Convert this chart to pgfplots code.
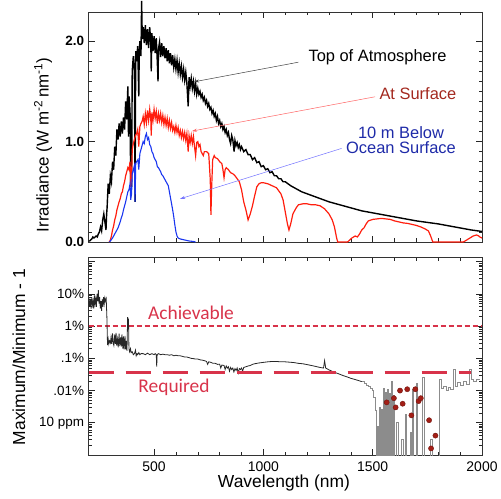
\documentclass[border=0pt]{standalone}
\usepackage{fontspec}
\setmainfont{Liberation Sans}
\newfontfamily\carlito{Carlito}
\usepackage{pgfplots}
\pgfplotsset{compat=1.18}
\usetikzlibrary{arrows.meta}
\definecolor{surfred}{HTML}{FF1E0E}
\definecolor{oceanblue}{HTML}{1A36F0}
\definecolor{lblred}{HTML}{A3281E}
\definecolor{lblblue}{HTML}{1E2AA8}
\definecolor{dashred}{HTML}{D8334A}
\definecolor{dotred}{HTML}{A31E16}

\pgfplotstableread{
x y
200 0.01
205 0.01
210 0.02
215 0.03
220 0.05
225 0.04
230 0.05
235 0.06
240 0.05
245 0.08
250 0.10
255 0.15
260 0.11
265 0.22
270 0.28
275 0.20
280 0.12
283 0.28
285 0.34
290 0.58
295 0.48
300 0.66
305 0.60
310 0.80
315 0.72
320 0.95
325 0.86
330 1.12
335 1.02
340 1.18
345 1.05
350 1.20
355 1.08
360 1.24
365 1.12
370 1.40
375 1.22
380 1.55
383 1.05
386 1.45
390 1.30
393 0.60
395 1.20
397 0.55
400 1.70
405 1.85
410 1.70
413 0.40
416 1.90
420 1.80
425 1.95
430 1.45
432 1.88
435 2.00
440 1.85
443 2.40
446 2.02
450 2.14
455 1.98
460 2.16
465 1.96
470 2.12
475 1.93
480 2.14
485 1.98
487 1.70
490 2.08
495 1.90
500 2.05
505 1.88
510 2.03
515 1.78
518 1.60
520 1.92
525 1.99
530 1.84
535 1.98
540 1.85
545 1.95
550 1.83
555 1.93
560 1.80
565 1.91
570 1.78
575 1.88
580 1.76
585 1.86
590 1.74
595 1.82
600 1.72
605 1.81
610 1.69
615 1.78
620 1.67
625 1.75
630 1.64
635 1.72
640 1.61
645 1.69
650 1.58
656 1.35
660 1.64
665 1.55
670 1.63
675 1.53
680 1.60
685 1.50
690 1.58
695 1.47
700 1.53
705 1.47
710 1.50
715 1.44
720 1.47
725 1.41
730 1.44
735 1.38
740 1.41
745 1.35
750 1.38
755 1.32
760 1.34
765 1.28
770 1.31
775 1.25
780 1.28
785 1.21
790 1.25
795 1.18
800 1.21
805 1.15
810 1.18
815 1.12
820 1.15
825 1.09
830 1.12
835 1.06
840 1.09
845 1.02
850 0.98
855 1.06
860 1.02
866 0.90
870 1.01
875 0.96
880 0.99
885 0.94
890 0.97
895 0.92
900 0.95
910 0.90
920 0.92
930 0.87
940 0.87
950 0.82
960 0.84
970 0.79
980 0.80
990 0.75
1000 0.76
1010 0.72
1020 0.73
1030 0.69
1040 0.70
1050 0.66
1060 0.66
1070 0.63
1080 0.63
1090 0.60
1100 0.60
1125 0.56
1150 0.53
1175 0.50
1200 0.48
1250 0.44
1300 0.40
1350 0.37
1400 0.34
1450 0.31
1500 0.29
1550 0.27
1600 0.25
1650 0.23
1700 0.21
1750 0.195
1800 0.18
1850 0.16
1900 0.14
1950 0.12
2000 0.105
}\toa

\pgfplotstableread{
x y
295 0.00
300 0.02
305 0.06
310 0.12
315 0.16
320 0.22
325 0.26
330 0.32
335 0.36
340 0.40
345 0.43
350 0.48
355 0.50
360 0.56
365 0.60
370 0.66
375 0.70
380 0.74
385 0.72
390 0.80
393 0.55
397 0.62
400 0.92
405 0.98
410 1.02
415 1.06
420 1.08
425 1.12
430 0.95
435 1.15
440 1.18
445 1.20
450 1.25
455 1.17
460 1.28
465 1.19
470 1.31
475 1.21
480 1.32
485 1.22
487 1.06
490 1.29
495 1.21
500 1.32
505 1.23
510 1.30
515 1.18
520 1.28
525 1.21
530 1.28
535 1.19
540 1.26
545 1.17
550 1.24
555 1.16
560 1.23
565 1.14
570 1.21
575 1.13
580 1.19
585 1.11
590 1.15
595 1.09
600 1.16
605 1.09
610 1.14
615 1.06
620 1.11
625 1.04
630 1.10
635 1.03
640 1.09
645 1.01
650 1.08
656 0.90
660 1.06
665 0.99
670 1.06
675 0.98
680 1.05
685 0.95
690 0.86
695 0.99
700 1.00
705 0.95
710 0.97
715 0.90
720 0.88
725 0.86
730 0.90
740 0.90
750 0.88
757 0.62
760 0.27
763 0.52
768 0.82
775 0.86
780 0.84
790 0.83
800 0.80
810 0.78
815 0.72
820 0.64
825 0.72
830 0.74
840 0.72
850 0.69
860 0.68
870 0.66
880 0.63
890 0.60
900 0.52
910 0.40
920 0.32
930 0.22
940 0.28
950 0.36
960 0.46
970 0.55
980 0.58
990 0.59
1000 0.59
1020 0.58
1040 0.56
1060 0.54
1080 0.48
1090 0.42
1100 0.30
1110 0.18
1117 0.12
1125 0.18
1135 0.28
1150 0.34
1160 0.37
1180 0.38
1200 0.38
1220 0.37
1240 0.37
1260 0.36
1280 0.33
1300 0.28
1315 0.22
1325 0.15
1335 0.04
1340 0.00
1385 0.00
1395 0.02
1405 0.04
1420 0.06
1430 0.05
1440 0.08
1450 0.12
1460 0.14
1470 0.18
1480 0.21
1500 0.225
1520 0.23
1540 0.235
1560 0.23
1580 0.225
1600 0.21
1620 0.20
1640 0.19
1660 0.185
1680 0.175
1700 0.165
1720 0.15
1740 0.13
1755 0.11
1765 0.06
1775 0.00
1915 0.00
1930 0.02
1945 0.04
1960 0.06
1975 0.07
1985 0.06
1990 0.05
2000 0.04
}\surf

\pgfplotstableread{
x y
295 0.00
300 0.01
310 0.04
320 0.08
330 0.12
335 0.14
340 0.17
345 0.20
350 0.24
355 0.27
360 0.32
365 0.36
370 0.40
375 0.45
380 0.50
385 0.52
390 0.58
393 0.42
397 0.48
400 0.68
405 0.72
410 0.76
413 0.40
416 0.78
420 0.80
426 0.82
430 0.72
435 0.88
440 0.92
445 0.96
450 1.00
455 0.98
460 1.05
465 1.08
470 1.02
475 1.04
480 0.97
485 0.95
490 0.90
495 0.88
500 0.84
505 0.82
510 0.80
515 0.75
520 0.74
525 0.72
530 0.70
535 0.67
540 0.66
545 0.64
550 0.62
555 0.60
560 0.58
565 0.56
570 0.50
575 0.44
580 0.38
585 0.32
590 0.25
595 0.17
600 0.10
605 0.06
610 0.04
620 0.03
640 0.02
660 0.01
680 0.005
690 0.00
}\ocean

\pgfplotstableread{
x y
200 0.035
203 0.06
206 0.04
209 0.07
212 0.035
215 0.08
218 0.045
221 0.06
224 0.035
227 0.09
230 0.05
233 0.07
236 0.04
239 0.10
242 0.06
245 0.13
248 0.05
251 0.08
254 0.035
257 0.06
260 0.03
263 0.07
266 0.04
269 0.08
272 0.05
275 0.075
278 0.06
281 0.07
284 0.02
287 0.0026
290 0.004
293 0.0028
296 0.0035
300 0.003
303 0.0045
306 0.0028
310 0.006
313 0.003
316 0.0025
320 0.0055
323 0.0028
326 0.0062
329 0.0025
333 0.004
336 0.0022
340 0.0058
343 0.0024
347 0.0045
350 0.0023
353 0.0055
357 0.002
360 0.0048
363 0.0019
367 0.005
370 0.0019
373 0.0035
376 0.0017
379 0.019
381 0.008
383 0.017
385 0.002
388 0.0016
392 0.002
395 0.0015
400 0.0016
405 0.0013
410 0.0014
415 0.0018
418 0.0012
422 0.0014
425 0.0013
430 0.0015
435 0.0013
440 0.0014
450 0.0014
460 0.0013
470 0.00145
480 0.0013
490 0.0014
500 0.0013
505 0.0014
510 0.0013
512 0.00055
514 0.0013
520 0.0014
530 0.0013
540 0.00135
550 0.0013
560 0.0013
570 0.00125
580 0.0013
590 0.0012
600 0.00125
610 0.0012
620 0.0012
630 0.00115
640 0.0011
650 0.0011
660 0.00105
670 0.001
680 0.00098
690 0.00095
700 0.00095
710 0.0009
720 0.00088
730 0.00085
740 0.0008
745 0.00065
750 0.00078
760 0.00075
770 0.0007
780 0.0007
790 0.00065
800 0.00066
805 0.0005
810 0.00062
820 0.0006
825 0.00045
830 0.00058
835 0.0005
840 0.00055
845 0.0004
850 0.00052
855 0.00045
860 0.0005
865 0.00038
870 0.00048
875 0.00042
880 0.0005
885 0.00035
890 0.00048
895 0.00045
900 0.0005
905 0.0004
910 0.00052
920 0.00055
930 0.00058
940 0.0006
950 0.00065
960 0.00068
970 0.0007
980 0.00072
1000 0.00075
1020 0.00078
1040 0.0008
1060 0.0008
1080 0.00078
1100 0.00078
1120 0.00076
1140 0.00074
1160 0.0007
1180 0.00068
1200 0.00064
1220 0.0006
1240 0.00056
1260 0.00052
1275 0.0005
1280 0.00085
1285 0.0005
1300 0.00044
1320 0.00038
1340 0.00034
1360 0.0003
1380 0.00027
1400 0.00024
1420 0.00022
1440 0.0002
1450 0.00019
}\ratio

\pgfplotstableread{
x y
1450 1.9e-4
1460 1.7e-4
1470 1.5e-4
1480 1.4e-4
1490 1.2e-4
1500 1.0e-4
1505 6e-5
1510 2.5e-5
1515 1e-8
1520 8e-6
1525 1e-8
1530 3e-5
1535 1e-8
1540 2.6e-5
1545 1e-8
1551 1.2e-4
1554 1e-8
1560 9e-5
1563 1e-8
1569 1.1e-4
1572 1e-8
1578 8e-5
1581 1e-8
1586 1.9e-4
1589 1e-8
1594 7e-5
1597 1e-8
1610 1e-5
1618 1e-8
1632 3e-6
1638 1e-8
1650 1.8e-5
1656 1e-8
1670 5e-6
1676 1e-8
1682 1.1e-4
1688 1e-8
1700 1.7e-4
1705 1e-8
1728 2.5e-4
1734 1e-8
1762 3e-6
1775 1e-8
1805 2.2e-4
1812 1.2e-4
1825 1.4e-4
1835 1.0e-4
1845 1.3e-4
1855 1.1e-4
1870 4.4e-4
1876 1.4e-4
1885 1.8e-4
1900 1.5e-4
1915 2.0e-4
1930 1.6e-4
1940 4.4e-4
1950 2.2e-4
1960 2.0e-4
1975 2.2e-4
1990 2.2e-4
}\ratiogray

\pgfplotstableread{
x y
1564 4.3e-5
1597 5.8e-5
1605 3.0e-5
1625 1.0e-4
1637 3.9e-5
1658 1.1e-4
1695 1.1e-4
1677 1.7e-5
1710 4.7e-5
1720 5.8e-5
1758 1.2e-5
1787 4.0e-6
1767 1.6e-6
}\dotdata

\begin{document}
\begin{tikzpicture}
\path[use as bounding box] (0,0) rectangle (501bp,499bp);
\begin{axis}[
  at={(88.5bp,257bp)}, anchor=south west,
  scale only axis, width=393.5bp, height=230bp,
  xmin=200, xmax=2000, ymin=0, ymax=2.29,
  xtick={500,1000,1500,2000}, xticklabels={}, minor x tick num=4,
  ytick={0,1,2}, yticklabels={\bfseries 0.0,\bfseries 1.0,\bfseries 2.0},
  minor y tick num=9,
  major tick length=6bp, minor tick length=3.5bp,
  tick style={black!85, line width=0.6bp},
  axis line style={black!80, line width=0.8bp},
  yticklabel style={font=\fontsize{13.5}{14}\selectfont, xshift=-1bp},
  clip=false,
]
\addplot[black, line width=1.4bp] table {\toa};
\addplot[surfred, line width=1.2bp] table {\surf};
\addplot[oceanblue, line width=1.1bp] table {\ocean};
\draw[black!75, line width=0.5bp, -{Stealth[length=5bp,width=3bp]}] (axis cs:1160,1.79) -- (axis cs:683,1.595);
\draw[red!60!white, line width=0.5bp, -{Stealth[length=5bp,width=3bp]}] (axis cs:1511,1.446) -- (axis cs:673,1.104);
\draw[blue!55!white, line width=0.5bp, -{Stealth[length=5bp,width=3bp]}] (axis cs:1358,0.932) -- (axis cs:619,0.43);
\end{axis}

\begin{semilogyaxis}[
  at={(88.5bp,44bp)}, anchor=south west,
  scale only axis, width=393.5bp, height=198bp,
  xmin=200, xmax=2000, ymin=1e-6, ymax=1.4,
  xtick={500,1000,1500,2000}, xticklabels={500,1000,1500,2000}, minor x tick num=4,
  ytick={1e-5,1e-4,1e-3,1e-2,1e-1,1},
  yticklabels={10 ppm,.01\%,.1\%,1\%,10\%,},
  minor ytick={2e-6,3e-6,4e-6,5e-6,6e-6,7e-6,8e-6,9e-6,
    2e-5,3e-5,4e-5,5e-5,6e-5,7e-5,8e-5,9e-5,
    2e-4,3e-4,4e-4,5e-4,6e-4,7e-4,8e-4,9e-4,
    2e-3,3e-3,4e-3,5e-3,6e-3,7e-3,8e-3,9e-3,
    2e-2,3e-2,4e-2,5e-2,6e-2,7e-2,8e-2,9e-2,
    2e-1,3e-1,4e-1,5e-1,6e-1,7e-1,8e-1,9e-1},
  major tick length=6bp, minor tick length=3.5bp,
  tick style={black!85, line width=0.6bp},
  axis line style={black!80, line width=0.8bp},
  yticklabel style={font=\fontsize{13.5}{14}\selectfont, xshift=-1bp},
  xticklabel style={font=\fontsize{14}{15}\selectfont, yshift=-3bp},
  clip=true,
]
\addplot[dashred, line width=1.4bp, dash pattern=on 5bp off 3bp] coordinates {(200,0.01) (2000,0.01)};
\addplot[black!85, line width=0.8bp] table {\ratio};
\addplot[black!45, line width=0.7bp, const plot mark left] table {\ratiogray};
\addplot[dashred, line width=3.5bp, dash pattern=on 25bp off 12bp] coordinates {(200,3.6e-4) (1950,3.6e-4)};
\addplot[only marks, mark=*, mark size=2.6bp, draw=dotred!70!black, fill=dotred] table {\dotdata};
\end{semilogyaxis}

\node[font=\fontsize{16.5}{18}\selectfont, anchor=west] at (305bp,442bp) {Top of Atmosphere};
\node[font=\fontsize{16.5}{18}\selectfont, anchor=west, text=lblred] at (376bp,405bp) {At Surface};
\node[font=\fontsize{16.5}{15.5}\selectfont, align=center, text=lblblue] at (401bp,359bp) {10 m Below\\Ocean Surface};
\node[font=\carlito\fontsize{19.5}{20}\selectfont, text=dashred] at (191bp,186bp) {Achievable};
\node[font=\carlito\fontsize{19.5}{20}\selectfont, text=dashred] at (174bp,112bp) {Required};
\node[rotate=90, font=\fontsize{17}{18}\selectfont] at (43bp,354bp) {Irradiance (W m\textsuperscript{-2}\,nm\textsuperscript{-1})};
\node[rotate=90, font=\fontsize{17.5}{18}\selectfont] at (19bp,142bp) {Maximum/Minimum - 1};
\node[font=\fontsize{17.5}{18}\selectfont] at (284bp,16bp) {Wavelength (nm)};
\end{tikzpicture}
\end{document}
